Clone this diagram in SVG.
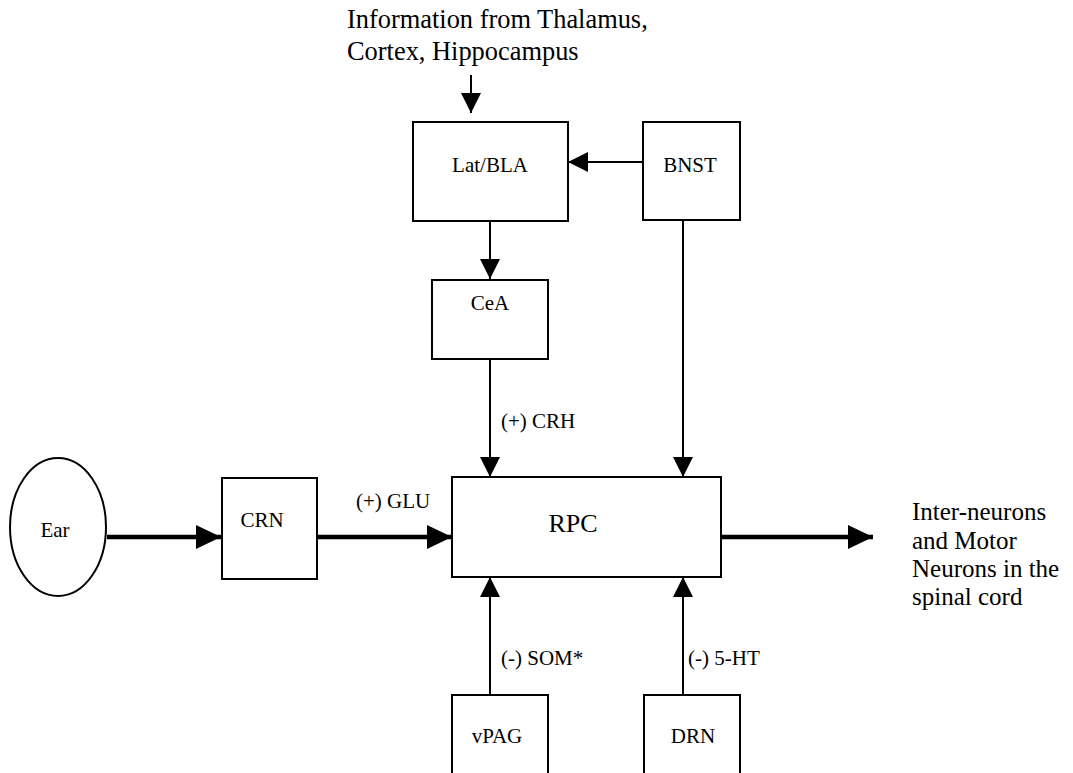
<svg xmlns="http://www.w3.org/2000/svg" width="1073" height="773" viewBox="0 0 1073 773">
<style>
.box{fill:#fff;stroke:#000;stroke-width:2}
.lbl{font-family:"Liberation Serif","Times New Roman",serif;font-size:21px;fill:#000;text-anchor:middle}
.elbl{font-family:"Liberation Serif","Times New Roman",serif;font-size:21px;fill:#000}
.big{font-family:"Liberation Serif","Times New Roman",serif;font-size:25px;fill:#000}
.thin{stroke:#000;stroke-width:2;fill:none;marker-end:url(#ah)}
.thick{stroke:#000;stroke-width:4.5;fill:none;marker-end:url(#ahb)}
</style>
<defs>
<marker id="ah" markerUnits="userSpaceOnUse" markerWidth="20" markerHeight="20" refX="20" refY="10" orient="auto"><path d="M0,0 L20,10 L0,20 z" fill="#000"/></marker>
<marker id="ahb" markerUnits="userSpaceOnUse" markerWidth="25" markerHeight="24" refX="25" refY="12" orient="auto"><path d="M0,0 L25,12 L0,24 z" fill="#000"/></marker>
</defs>
<rect width="1073" height="773" fill="#fff"/>
<g id="title">
<text class="big" x="347" y="28" style="font-size:26.4px">Information from Thalamus,</text>
<text class="big" x="347" y="60" style="font-size:26.4px">Cortex, Hippocampus</text>
</g>
<g id="output-label">
<text class="big" x="912" y="520">Inter-neurons</text>
<text class="big" x="912" y="549">and Motor</text>
<text class="big" x="912" y="577">Neurons in the</text>
<text class="big" x="912" y="605">spinal cord</text>
</g>
<g id="connectors">
<line class="thin" x1="471" y1="75" x2="471" y2="113"/>
<line class="thin" x1="643" y1="162" x2="568" y2="162"/>
<line class="thin" x1="490" y1="221" x2="490" y2="279"/>
<line class="thin" x1="490" y1="359" x2="490" y2="477"/>
<line class="thin" x1="683" y1="220" x2="683" y2="477"/>
<line class="thick" x1="107" y1="537" x2="221" y2="537"/>
<line class="thick" x1="317" y1="537" x2="452" y2="537"/>
<line class="thick" x1="721" y1="537" x2="873" y2="537"/>
<line class="thin" x1="490" y1="695" x2="490" y2="577"/>
<line class="thin" x1="683" y1="695" x2="683" y2="577"/>
<text class="elbl" x="501" y="428">(+) CRH</text>
<text class="elbl" x="356" y="508">(+) GLU</text>
<text class="elbl" x="501" y="665">(-) SOM*</text>
<text class="elbl" x="688" y="665">(-) 5-HT</text>
</g>
<g id="latbla"><rect class="box" x="413" y="122" width="155" height="99"/><text class="lbl" x="490" y="172">Lat/BLA</text></g>
<g id="bnst"><rect class="box" x="643" y="122" width="97" height="98"/><text class="lbl" x="690" y="172">BNST</text></g>
<g id="cea"><rect class="box" x="432" y="280" width="116" height="79"/><text class="lbl" x="490" y="310">CeA</text></g>
<g id="rpc"><rect class="box" x="452" y="477" width="269" height="100"/><text class="lbl" x="573" y="532" style="font-size:26px">RPC</text></g>
<g id="crn"><rect class="box" x="222" y="478" width="95" height="101"/><text class="lbl" x="262" y="527">CRN</text></g>
<g id="ear"><ellipse class="box" cx="58" cy="527" rx="48" ry="69"/><text class="lbl" x="55" y="537">Ear</text></g>
<g id="vpag"><rect class="box" x="452" y="695" width="96" height="100"/><text class="lbl" x="497" y="743">vPAG</text></g>
<g id="drn"><rect class="box" x="644" y="695" width="96" height="100"/><text class="lbl" x="693" y="743">DRN</text></g>
</svg>
